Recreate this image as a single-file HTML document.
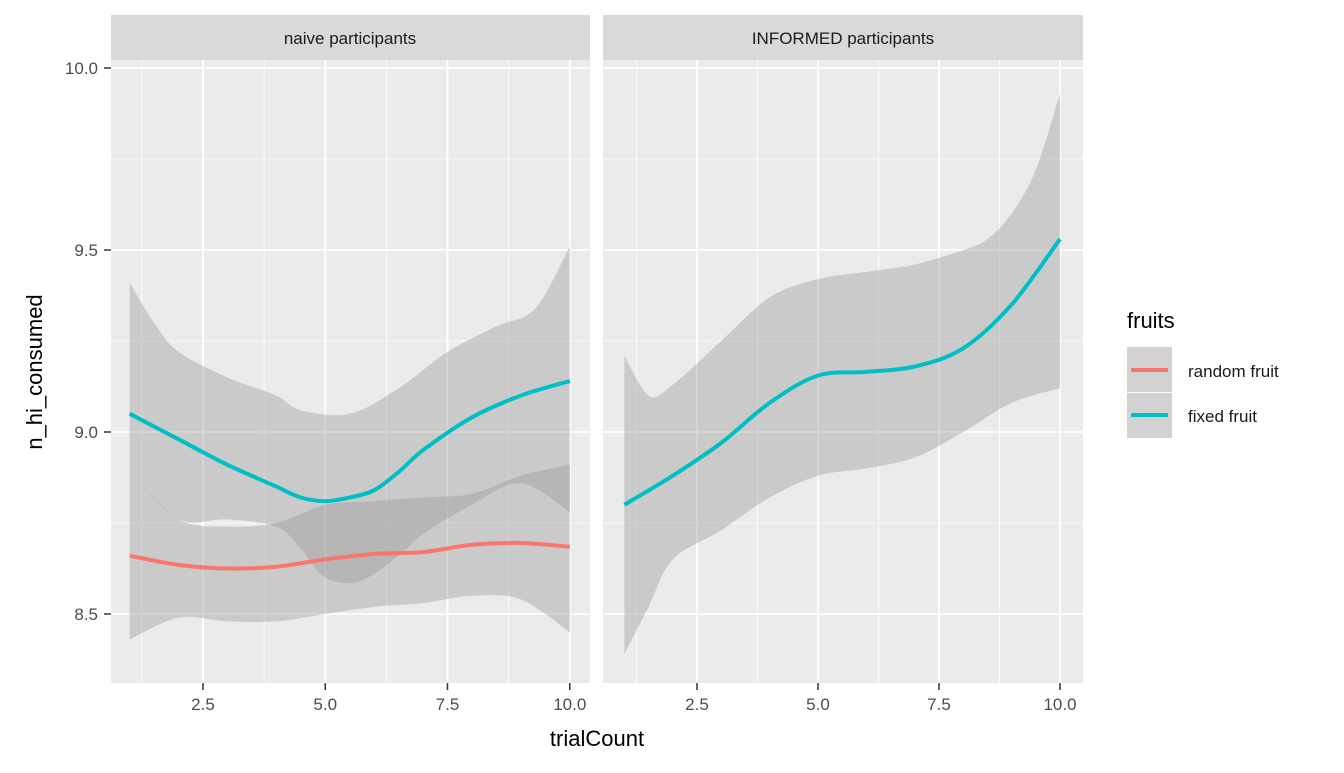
<!DOCTYPE html>
<html><head><meta charset="utf-8"><style>
body{margin:0;background:#fff;width:1344px;height:768px;overflow:hidden}
svg{font-family:"Liberation Sans",sans-serif}
</style></head><body>
<svg id="s" width="1344" height="768" xmlns="http://www.w3.org/2000/svg">
<rect x="111" y="60" width="479" height="623" fill="#ebebeb"/>
<rect x="603" y="60" width="480" height="623" fill="#ebebeb"/>
<rect x="111" y="15" width="479" height="45" fill="#d9d9d9"/>
<rect x="603" y="15" width="480" height="45" fill="#d9d9d9"/>
<text x="350" y="44" font-size="17" text-anchor="middle" fill="#1a1a1a">naive participants</text>
<text x="843" y="44" font-size="17" text-anchor="middle" fill="#1a1a1a">INFORMED participants</text>
<g id="grid"></g>
<g id="data"></g>
<g font-size="17" fill="#4d4d4d" text-anchor="end">
<text x="98" y="74">10.0</text><text x="98" y="256">9.5</text><text x="98" y="438">9.0</text><text x="98" y="620">8.5</text>
</g>
<g stroke="#333" stroke-width="1.5">
<line x1="104" x2="111" y1="68" y2="68"/><line x1="104" x2="111" y1="250" y2="250"/><line x1="104" x2="111" y1="432" y2="432"/><line x1="104" x2="111" y1="614" y2="614"/>
</g>
<g id="xt" font-size="17" fill="#4d4d4d" text-anchor="middle"></g>
<text x="597" y="746" font-size="22" text-anchor="middle" fill="#000">trialCount</text>
<text transform="translate(42,372) rotate(-90)" font-size="22" text-anchor="middle" fill="#000">n_hi_consumed</text>
<text x="1127" y="328" font-size="22" fill="#000">fruits</text>
<rect x="1127" y="347" width="45" height="45" fill="#d2d2d2"/>
<rect x="1127" y="393" width="45" height="45" fill="#d2d2d2"/>
<line x1="1131" x2="1168" y1="370" y2="370" stroke="#f8766d" stroke-width="4"/>
<line x1="1131" x2="1168" y1="415" y2="415" stroke="#00bfc4" stroke-width="4"/>
<text x="1188" y="377" font-size="17" fill="#1a1a1a">random fruit</text>
<text x="1188" y="422" font-size="17" fill="#1a1a1a">fixed fruit</text>
</svg>
<script>
const NS="http://www.w3.org/2000/svg";
const Y=v=>68+(10-v)*364;
const XL=t=>203+(t-2.5)*48.9, XR=t=>697+(t-2.5)*48.4;
const g=document.getElementById('grid'), d=document.getElementById('data'), xt=document.getElementById('xt');
function el(p,tag,a){const e=document.createElementNS(NS,tag);for(const k in a)e.setAttribute(k,a[k]);p.appendChild(e);return e;}
[[111,590,XL],[603,1083,XR]].forEach(([a,b,X])=>{
 [9.75,9.25,8.75].forEach(v=>el(g,'line',{x1:a,x2:b,y1:Y(v),y2:Y(v),stroke:'#fff','stroke-width':0.8}));
 [1.25,3.75,6.25,8.75].forEach(t=>el(g,'line',{x1:X(t),x2:X(t),y1:60,y2:683,stroke:'#fff','stroke-width':0.8}));
 [10,9.5,9,8.5].forEach(v=>el(g,'line',{x1:a,x2:b,y1:Y(v),y2:Y(v),stroke:'#fff','stroke-width':1.8}));
 [2.5,5,7.5,10].forEach(t=>{el(g,'line',{x1:X(t),x2:X(t),y1:60,y2:683,stroke:'#fff','stroke-width':1.8});
  el(xt,'line',{x1:X(t),x2:X(t),y1:683,y2:690,stroke:'#333','stroke-width':1.5});
  const tx=el(xt,'text',{x:X(t),y:710});tx.textContent=t.toFixed(1);});
});
function P(X,arr){return arr.map(([t,v])=>[X(t),Y(v)]);}
function cr(p,move){let s=(move?'M':'L')+p[0][0].toFixed(1)+','+p[0][1].toFixed(1);
 for(let i=0;i<p.length-1;i++){const p0=p[Math.max(0,i-1)],p1=p[i],p2=p[i+1],p3=p[Math.min(p.length-1,i+2)];
  const c1=[p1[0]+(p2[0]-p0[0])/6,p1[1]+(p2[1]-p0[1])/6],c2=[p2[0]-(p3[0]-p1[0])/6,p2[1]-(p3[1]-p1[1])/6];
  s+=' C'+c1.map(v=>v.toFixed(1)).join(',')+' '+c2.map(v=>v.toFixed(1)).join(',')+' '+p2.map(v=>v.toFixed(1)).join(',');}
 return s;}
function band(X,up,lo){el(d,'path',{d:cr(P(X,up),true)+' '+cr(P(X,lo.slice().reverse()),false)+'Z',fill:'#999','fill-opacity':0.4});}
function line(X,a,c){el(d,'path',{d:cr(P(X,a),true),fill:'none',stroke:c,'stroke-width':4,'stroke-linejoin':'round'});}
band(XL,[[1,8.89],[2,8.76],[3,8.74],[4,8.75],[5,8.8],[6,8.81],[7,8.82],[8,8.83],[9,8.88],[10,8.91]],
 [[1,8.43],[2,8.49],[3,8.48],[4,8.48],[5,8.5],[6,8.52],[7,8.53],[8,8.55],[9,8.54],[10,8.45]]);
band(XL,[[1,9.41],[1.5,9.3],[2,9.22],[3,9.15],[4,9.1],[4.5,9.06],[5.5,9.05],[6.5,9.12],[7.5,9.22],[8.5,9.29],[9.3,9.34],[10,9.51]],
 [[1,8.89],[2,8.76],[3,8.76],[4,8.74],[4.5,8.68],[5,8.6],[5.7,8.59],[6.5,8.66],[7,8.72],[8,8.8],[9,8.86],[10,8.78]]);
line(XL,[[1,8.66],[2,8.635],[3,8.625],[4,8.63],[5,8.65],[6,8.665],[7,8.67],[8,8.69],[9,8.695],[10,8.685]],'#f8766d');
line(XL,[[1,9.05],[2,8.98],[3,8.91],[4,8.85],[4.5,8.82],[5,8.81],[5.5,8.82],[6,8.84],[6.5,8.89],[7,8.95],[8,9.04],[9,9.1],[10,9.14]],'#00bfc4');
band(XR,[[1,9.21],[1.5,9.1],[2,9.13],[3,9.25],[4,9.37],[5,9.42],[6,9.44],[7,9.46],[8,9.5],[8.5,9.53],[9,9.6],[9.5,9.72],[10,9.93]],
 [[1,8.39],[1.5,8.52],[2,8.65],[3,8.73],[4,8.82],[5,8.88],[6,8.9],[7,8.93],[8,9.0],[9,9.08],[10,9.12]]);
line(XR,[[1,8.8],[2,8.88],[3,8.97],[4,9.08],[5,9.155],[6,9.165],[7,9.18],[8,9.23],[9,9.35],[10,9.53]],'#00bfc4');
</script>
</body></html>
